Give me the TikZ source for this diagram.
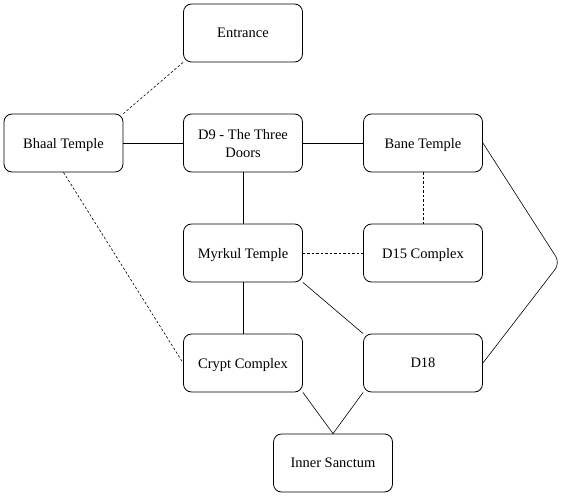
\documentclass[tikz,border=0pt]{standalone}
\usepackage{fontspec}
\setmainfont{Liberation Serif}
\begin{document}
\begin{tikzpicture}[x=1pt,y=-1pt,
  box/.style={draw,thick,rounded corners=8pt,minimum width=119pt,minimum height=58pt,align=center,inner sep=2pt,text depth=0pt,font=\fontsize{14.5}{18}\selectfont},
  link/.style={draw,line width=0.6pt},
  dlink/.style={draw,line width=0.6pt,dash pattern=on 2.5pt off 2pt}]
\useasboundingbox (0,0) rectangle (569,497);
\node[box] (ent) at (243,33) {Entrance};
\node[box] (bhaal) at (63.5,143) {Bhaal Temple};
\node[box] (d9) at (243,143) {D9 - The Three\\Doors};
\node[box] (bane) at (423,143) {Bane Temple};
\node[box] (myr) at (243,253) {Myrkul Temple};
\node[box] (d15) at (423,253) {D15 Complex};
\node[box] (crypt) at (243,363) {Crypt Complex};
\node[box] (d18) at (423,363) {D18};
\node[box] (inner) at (333,463) {Inner Sanctum};
\coordinate (bend) at (560,263);
\draw[dlink] (ent.south west) -- (bhaal.north east);
\draw[link] (bhaal) -- (d9);
\draw[link] (d9) -- (bane);
\draw[link] (d9) -- (myr);
\draw[dlink] (bane) -- (d15);
\draw[dlink] (myr) -- (d15);
\draw[link] (myr) -- (crypt);
\draw[dlink] (bhaal.south) -- (crypt.west);
\draw[link] (myr.south east) -- (d18.north west);
\draw[link,rounded corners=8pt] (bane.east) -- (bend) -- (d18.east);
\draw[link] (crypt.south east) -- (inner.north);
\draw[link] (d18.south west) -- (inner.north);
\end{tikzpicture}
\end{document}
